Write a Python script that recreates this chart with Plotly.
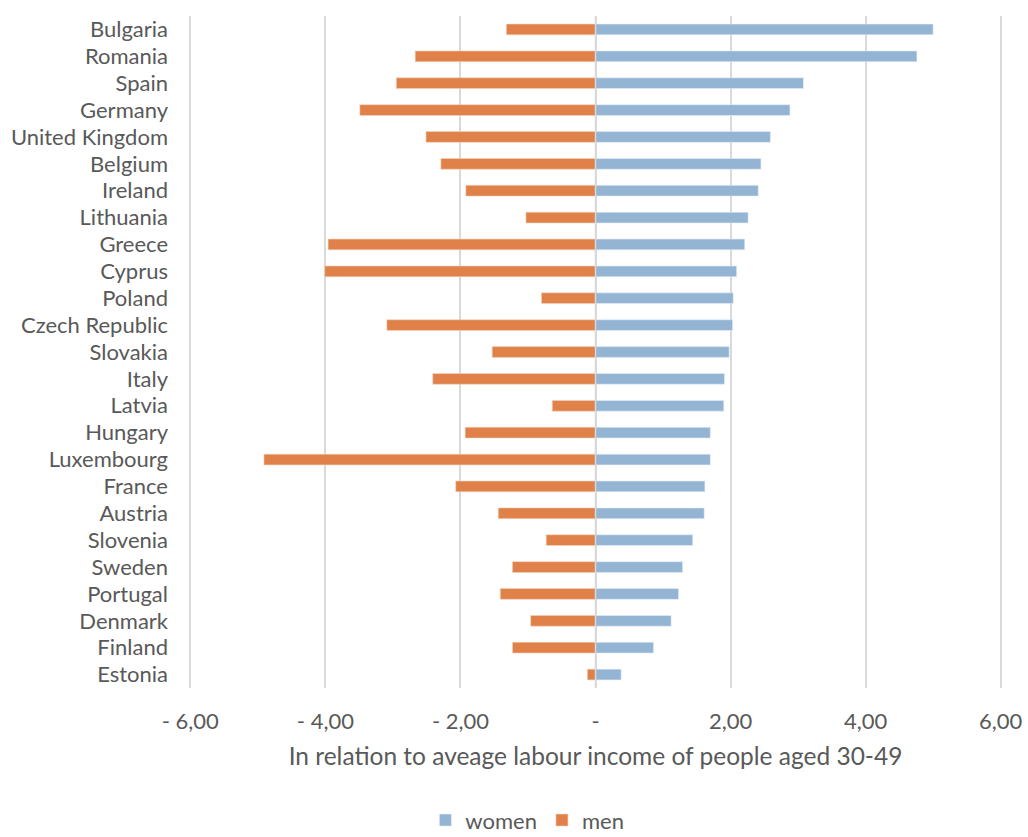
import plotly.graph_objects as go

countries = ["Bulgaria", "Romania", "Spain", "Germany", "United Kingdom", "Belgium",
             "Ireland", "Lithuania", "Greece", "Cyprus", "Poland", "Czech Republic",
             "Slovakia", "Italy", "Latvia", "Hungary", "Luxembourg", "France",
             "Austria", "Slovenia", "Sweden", "Portugal", "Denmark", "Finland", "Estonia"]

women = [5.00, 4.76, 3.08, 2.88, 2.59, 2.45, 2.41, 2.26, 2.21, 2.09, 2.04, 2.03,
         1.98, 1.91, 1.90, 1.70, 1.70, 1.62, 1.61, 1.44, 1.29, 1.23, 1.12, 0.86, 0.38]

men = [-1.32, -2.67, -2.95, -3.49, -2.51, -2.29, -1.92, -1.03, -3.96, -4.01, -0.80, -3.09,
       -1.53, -2.41, -0.64, -1.93, -4.91, -2.07, -1.44, -0.73, -1.23, -1.41, -0.96, -1.23, -0.12]

tick_vals = [-6, -4, -2, 0, 2, 4, 6]
tick_text = ["- 6,00", "- 4,00", "- 2,00", "-", "2,00", "4,00", "6,00"]

FONT = "Lato, 'Open Sans', sans-serif"
GREY = "#595959"
GRID = "#D9D9D9"

fig = go.Figure()
fig.add_trace(go.Bar(y=countries, x=women, name="women", orientation="h",
                     marker=dict(color="#94B4D3", line=dict(color="#E6EEF6", width=0.6))))
fig.add_trace(go.Bar(y=countries, x=men, name="men", orientation="h",
                     marker=dict(color="#DF8149", line=dict(color="#F3D3C0", width=0.6))))

# zero line drawn over the bars
fig.add_shape(type="line", xref="x", yref="paper", x0=0, x1=0, y0=0, y1=1,
              line=dict(color=GRID, width=1.5), layer="above")

fig.update_layout(
    width=1028, height=837,
    margin=dict(l=189, r=26, t=16, b=149, autoexpand=False),
    barmode="relative",
    bargap=0.6,
    plot_bgcolor="white",
    paper_bgcolor="white",
    font=dict(family=FONT, color=GREY, size=22),
    showlegend=True,
    legend=dict(orientation="h", xref="container", x=0.513, xanchor="center",
                yref="container", y=0.02, yanchor="middle",
                font=dict(size=22, color=GREY), traceorder="normal",
                itemwidth=30, bgcolor="rgba(0,0,0,0)"),
    xaxis=dict(range=[-6.02, 6.02], tickvals=tick_vals, ticktext=tick_text,
               showgrid=True, gridcolor=GRID, gridwidth=1.5,
               zeroline=False, showline=False, ticks="", automargin=False,
               ticklabelstandoff=18,
               tickfont=dict(size=22, color=GREY),
               title=dict(text="In relation to aveage labour income of people aged 30-49",
                          font=dict(size=24.5, color=GREY), standoff=14)),
    yaxis=dict(autorange="reversed", showgrid=False, showline=False, ticks="",
               automargin=False,
               tickfont=dict(size=22, color=GREY), ticklabelstandoff=20),
)

fig.write_html("out.html")
